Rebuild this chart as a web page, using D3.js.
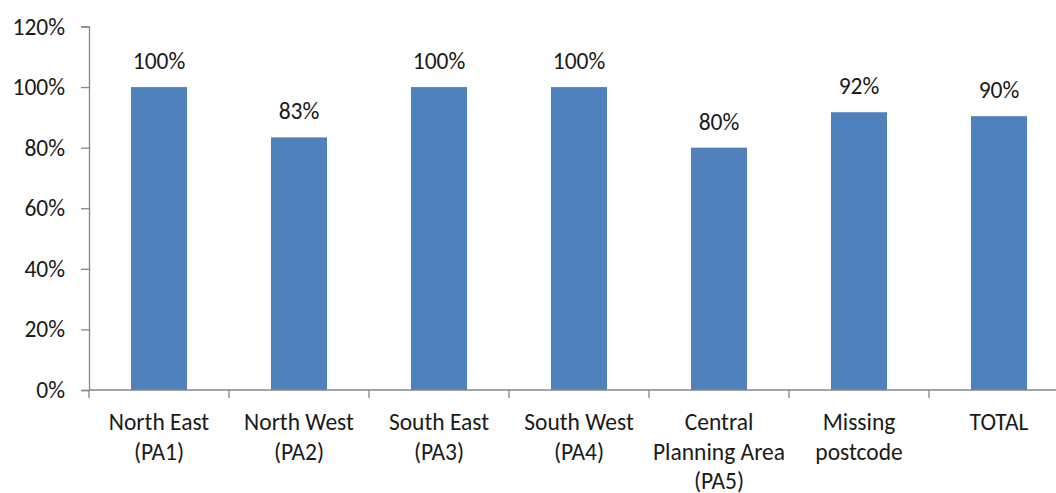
<!DOCTYPE html>
<html>
<head>
<meta charset="utf-8">
<script src="https://cdn.jsdelivr.net/npm/d3@7"></script>
<style>
  html, body { margin: 0; padding: 0; background: #fff; }
  svg text { font-family: Carlito, Lato, "Open Sans", sans-serif; fill: #1a1a1a; }
</style>
</head>
<body>
<svg id="chart" width="1056" height="493"></svg>
<script>
// Share of records by planning area
const categories = [
  ["North East", "(PA1)"],
  ["North West", "(PA2)"],
  ["South East", "(PA3)"],
  ["South West", "(PA4)"],
  ["Central", "Planning Area", "(PA5)"],
  ["Missing", "postcode"],
  ["TOTAL"]
];
const values = [1.00, 0.834, 1.00, 1.00, 0.80, 0.917, 0.904];
const yTicks = [0, 0.2, 0.4, 0.6, 0.8, 1.0, 1.2];

const svg = d3.select("#chart");
const axisColor = "#868686";
const barColor = "#4F81BD";
const fontSize = 23.5;

const x = d3.scaleBand()
  .domain(d3.range(categories.length))
  .range([89, 89 + 140 * categories.length])
  .paddingInner(0.6)
  .paddingOuter(0.3);

const y = d3.scaleLinear().domain([0, 1.2]).range([390, 26.5]);

const pct = d3.format(".0%");

// Bars
svg.append("g").selectAll("rect")
  .data(values)
  .join("rect")
  .attr("x", (d, i) => x(i))
  .attr("width", x.bandwidth())
  .attr("y", d => y(d))
  .attr("height", d => y(0) - y(d))
  .attr("fill", barColor);

// Value labels
svg.append("g").selectAll("text")
  .data(values)
  .join("text")
  .attr("x", (d, i) => x(i) + x.bandwidth() / 2)
  .attr("y", d => y(d) - 18)
  .attr("text-anchor", "middle")
  .style("font-size", fontSize + "px")
  .text(d => pct(d));

// Y axis
const yAxis = svg.append("g")
  .attr("transform", "translate(89,0)")
  .call(d3.axisLeft(y).tickValues(yTicks).tickFormat(pct).tickSize(8).tickPadding(16));
yAxis.select(".domain").attr("stroke", axisColor).attr("stroke-width", 1.3);
yAxis.selectAll(".tick line").attr("stroke", axisColor).attr("stroke-width", 1.3);
yAxis.selectAll(".tick text")
  .style("font-size", fontSize + "px")
  .attr("fill", "#1a1a1a")
  .attr("font-family", null);

// X axis line with boundary ticks between categories
const xAxisG = svg.append("g");
xAxisG.append("line")
  .attr("x1", 89).attr("x2", 1056)
  .attr("y1", y(0)).attr("y2", y(0))
  .attr("stroke", axisColor).attr("stroke-width", 1.3);
const step = x.step();
xAxisG.selectAll("line.tick")
  .data(d3.range(categories.length))
  .join("line")
  .attr("class", "tick")
  .attr("x1", i => x(i) + x.bandwidth() / 2 - step / 2)
  .attr("x2", i => x(i) + x.bandwidth() / 2 - step / 2)
  .attr("y1", y(0)).attr("y2", y(0) + 8)
  .attr("stroke", axisColor).attr("stroke-width", 1.3);

// Category labels
const catG = svg.append("g").selectAll("text")
  .data(categories)
  .join("text")
  .attr("x", (d, i) => x(i) + x.bandwidth() / 2)
  .attr("y", 430)
  .attr("text-anchor", "middle")
  .style("font-size", fontSize + "px");
catG.selectAll("tspan")
  .data(d => d)
  .join("tspan")
  .attr("x", function () { return this.parentNode.getAttribute("x"); })
  .attr("dy", (d, i) => i === 0 ? 0 : 29.5)
  .text(d => d);
</script>
</body>
</html>
